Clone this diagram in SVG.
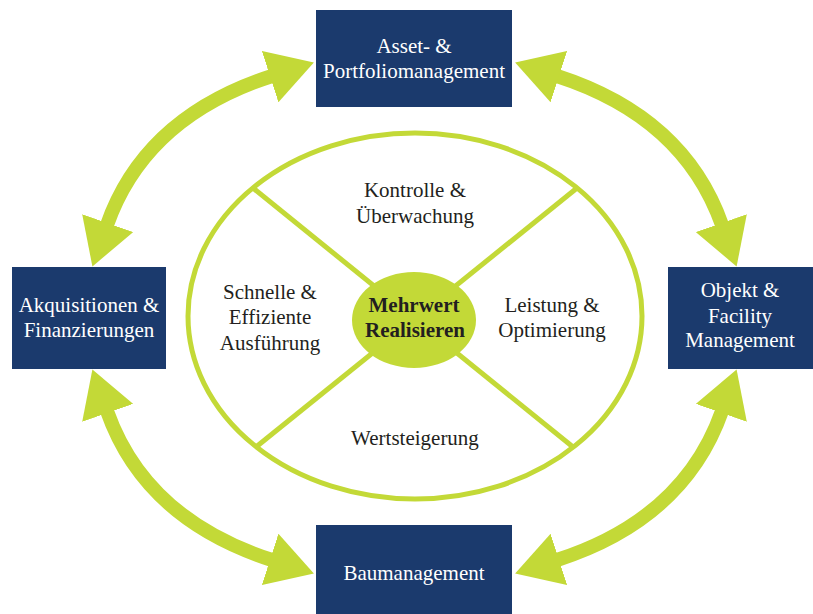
<svg xmlns="http://www.w3.org/2000/svg" width="813" height="614" viewBox="0 0 813 614">
  <style>
    .box { fill: #1b3a6d; }
    .boxtext { fill: #ffffff; font-family: "Liberation Serif", "Times New Roman", serif; font-size: 21px; text-anchor: middle; }
    .label { fill: #231f20; font-family: "Liberation Serif", "Times New Roman", serif; font-size: 21px; text-anchor: middle; }
    .core { fill: #231f20; font-family: "Liberation Serif", "Times New Roman", serif; font-size: 21px; font-weight: bold; text-anchor: middle; }
    .ring { fill: none; stroke: #c3d937; stroke-width: 5; }
    .spoke { stroke: #c3d937; stroke-width: 5; }
    .flow { fill: none; stroke: #c3d937; stroke-width: 14; marker-start: url(#head); marker-end: url(#head); }
  </style>
  <defs>
    <marker id="head" markerUnits="userSpaceOnUse" viewBox="0 0 46 54" markerWidth="46" markerHeight="54" refX="2" refY="27" orient="auto-start-reverse">
      <path d="M0,0 L46,27 L0,54 Z" fill="#c3d937"/>
    </marker>
  </defs>

  <!-- central wheel -->
  <g id="wheel">
    <line class="spoke" x1="253" y1="188" x2="573" y2="447"/>
    <line class="spoke" x1="577" y1="188" x2="256" y2="447"/>
    <ellipse class="ring" cx="415" cy="316" rx="227" ry="183"/>
  </g>
  <g id="core">
    <ellipse cx="414" cy="320" rx="62" ry="48" fill="#c3d937"/>
    <text class="core" x="414" y="312">Mehrwert</text>
    <text class="core" x="415" y="337">Realisieren</text>
  </g>
  <g id="kontrolle">
    <text class="label" x="415" y="197">Kontrolle &amp;</text>
    <text class="label" x="415" y="223">Überwachung</text>
  </g>
  <g id="ausfuehrung">
    <text class="label" x="270" y="299">Schnelle &amp;</text>
    <text class="label" x="270" y="324">Effiziente</text>
    <text class="label" x="270" y="350">Ausführung</text>
  </g>
  <g id="leistung">
    <text class="label" x="552" y="312">Leistung &amp;</text>
    <text class="label" x="552" y="337">Optimierung</text>
  </g>
  <g id="wertsteigerung">
    <text class="label" x="415" y="445">Wertsteigerung</text>
  </g>

  <!-- outer cycle connectors -->
  <g id="connectors">
    <path class="flow" d="M272,76 Q145,117 107,225"/>
    <path class="flow" d="M557,76 Q684,117 722,225"/>
    <path class="flow" d="M272,560 Q145,519 107,411"/>
    <path class="flow" d="M557,560 Q684,519 722,411"/>
  </g>

  <!-- outer nodes -->
  <g id="asset">
    <rect class="box" x="316" y="10" width="196" height="97"/>
    <text class="boxtext" x="414" y="53">Asset- &amp;</text>
    <text class="boxtext" x="414" y="78">Portfoliomanagement</text>
  </g>
  <g id="akquisitionen">
    <rect class="box" x="12" y="267" width="154" height="102"/>
    <text class="boxtext" x="89" y="312">Akquisitionen &amp;</text>
    <text class="boxtext" x="89" y="337">Finanzierungen</text>
  </g>
  <g id="objekt">
    <rect class="box" x="668" y="267" width="145" height="102"/>
    <text class="boxtext" x="740" y="297">Objekt &amp;</text>
    <text class="boxtext" x="740" y="323">Facility</text>
    <text class="boxtext" x="740" y="347">Management</text>
  </g>
  <g id="bau">
    <rect class="box" x="316" y="525" width="196" height="89"/>
    <text class="boxtext" x="414" y="580">Baumanagement</text>
  </g>
</svg>
